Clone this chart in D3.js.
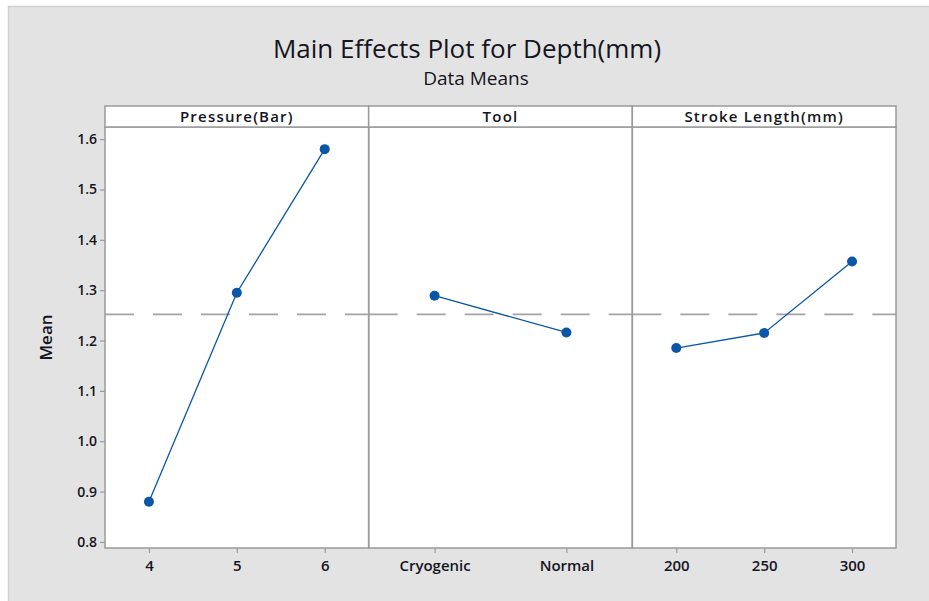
<!DOCTYPE html>
<html>
<head>
<meta charset="utf-8">
<script src="https://cdn.jsdelivr.net/npm/d3@7"></script>
<style>
  html, body { margin: 0; padding: 0; background: #fff; }
  svg { display: block; font-family: "Open Sans", "Noto Sans", sans-serif; }
</style>
</head>
<body>
<svg id="chart" width="929" height="601"></svg>
<script>
/*** DATA ***/
const factors = ["Pressure(Bar)", "Tool", "Stroke Length(mm)"];

const pressureLevels = ["4", "5", "6"];
const pressureMeans = [0.880, 1.295, 1.580];

const toolLevels = ["Cryogenic", "Normal"];
const toolMeans = [1.289, 1.216];

const strokeLevels = ["200", "250", "300"];
const strokeMeans = [1.185, 1.215, 1.357];

const yTicks = [0.8, 0.9, 1.0, 1.1, 1.2, 1.3, 1.4, 1.5, 1.6];
const grandMean = 1.252;

/*** CONSTANTS ***/
WIDTH = 929;
HEIGHT = 601;

const plot = {
  left: 105,
  right: 896,
  stripTop: 106,
  top: 127,
  bottom: 548
};

const LINE_COLOR = "#0a57a8";
const FRAME_COLOR = "#9a9a9a";
const TEXT_COLOR = "#15151f";

const panels = [
  {name: factors[0], levels: pressureLevels, means: pressureMeans},
  {name: factors[1], levels: toolLevels, means: toolMeans},
  {name: factors[2], levels: strokeLevels, means: strokeMeans}
];

let svg = d3.select("#chart");

// outer gray background with a thin white margin top/left
svg.append("rect")
  .attr("x", 8).attr("y", 6)
  .attr("width", WIDTH - 8).attr("height", HEIGHT - 6)
  .attr("fill", "#e3e3e3");
svg.append("path")
  .attr("d", `M8.5,${HEIGHT} V6.5 H${WIDTH}`)
  .attr("fill", "none")
  .attr("stroke", "#d0d0d0")
  .attr("stroke-width", 1.5);

// titles
svg.append("text")
  .attr("x", 467).attr("y", 58)
  .attr("text-anchor", "middle")
  .attr("font-size", "26px")
  .attr("font-weight", 500)
  .attr("fill", TEXT_COLOR)
  .text("Main Effects Plot for Depth(mm)");

svg.append("text")
  .attr("x", 476).attr("y", 85)
  .attr("text-anchor", "middle")
  .attr("font-size", "19px")
  .attr("font-weight", 500)
  .attr("fill", TEXT_COLOR)
  .text("Data Means");

/*** SCALES ***/
var yScale = d3.scaleLinear()
  .domain([0.788, 1.624])
  .range([plot.bottom, plot.top]);

const panelW = (plot.right - plot.left) / panels.length;

// white plotting area
svg.append("rect")
  .attr("x", plot.left).attr("y", plot.stripTop)
  .attr("width", plot.right - plot.left)
  .attr("height", plot.bottom - plot.stripTop)
  .attr("fill", "#fff");

panels.forEach((p, i) => {
  const x0 = plot.left + i * panelW;
  const x1 = x0 + panelW;

  const xScale = d3.scalePoint()
    .domain(p.levels)
    .range([x0, x1])
    .padding(0.5);

  const g = svg.append("g").attr("class", "panel");

  // reference line (dashes restart in each panel)
  g.append("line")
    .attr("x1", x0).attr("x2", x1)
    .attr("y1", yScale(grandMean)).attr("y2", yScale(grandMean))
    .attr("stroke", "#a3a3a3")
    .attr("stroke-width", 1.6)
    .attr("stroke-dasharray", "29,19");

  // bottom axis
  const xAxis = g.append("g")
    .attr("transform", `translate(0,${plot.bottom})`)
    .call(d3.axisBottom(xScale).tickSize(5).tickPadding(7));
  xAxis.select(".domain").remove();
  xAxis.selectAll("line").attr("stroke", FRAME_COLOR).attr("stroke-width", 1.2);
  xAxis.selectAll("text")
    .attr("font-size", "15px")
    .attr("font-weight", 600)
    .attr("font-family", "'Open Sans', sans-serif")
    .attr("fill", TEXT_COLOR);

  // means line and markers
  const pts = p.levels.map((lv, k) => ({level: lv, mean: p.means[k]}));

  g.append("path")
    .datum(pts)
    .attr("fill", "none")
    .attr("stroke", LINE_COLOR)
    .attr("stroke-width", 1.3)
    .attr("d", d3.line().x(d => xScale(d.level)).y(d => yScale(d.mean)));

  g.selectAll("circle")
    .data(pts)
    .join("circle")
    .attr("cx", d => xScale(d.level))
    .attr("cy", d => yScale(d.mean))
    .attr("r", 5)
    .attr("fill", LINE_COLOR);

  // panel frame
  g.append("rect")
    .attr("x", x0).attr("y", plot.top)
    .attr("width", panelW).attr("height", plot.bottom - plot.top)
    .attr("fill", "none")
    .attr("stroke", FRAME_COLOR)
    .attr("stroke-width", 1.5);

  // strip
  g.append("rect")
    .attr("x", x0).attr("y", plot.stripTop)
    .attr("width", panelW).attr("height", plot.top - plot.stripTop)
    .attr("fill", "#fff")
    .attr("stroke", FRAME_COLOR)
    .attr("stroke-width", 1.5);

  g.append("text")
    .attr("x", (x0 + x1) / 2)
    .attr("y", plot.stripTop + 16)
    .attr("text-anchor", "middle")
    .attr("font-size", "15px")
    .attr("font-weight", 600)
    .attr("letter-spacing", "1.2px")
    .attr("fill", TEXT_COLOR)
    .text(p.name);
});

// left axis
var yAxis = svg.append("g")
  .attr("transform", `translate(${plot.left},0)`)
  .call(d3.axisLeft(yScale).tickValues(yTicks).tickFormat(d3.format(".1f")).tickSize(5).tickPadding(3));
yAxis.select(".domain").remove();
yAxis.selectAll("line").attr("stroke", FRAME_COLOR).attr("stroke-width", 1.2);
yAxis.selectAll("text")
  .attr("font-size", "14px")
  .attr("font-weight", 600)
  .attr("font-family", "'Open Sans', sans-serif")
  .attr("fill", TEXT_COLOR);

svg.append("text")
  .attr("transform", `translate(52,${(plot.top + plot.bottom) / 2}) rotate(-90)`)
  .attr("text-anchor", "middle")
  .attr("font-size", "17px")
  .attr("font-weight", 600)
  .attr("fill", TEXT_COLOR)
  .text("Mean");
</script>
</body>
</html>
